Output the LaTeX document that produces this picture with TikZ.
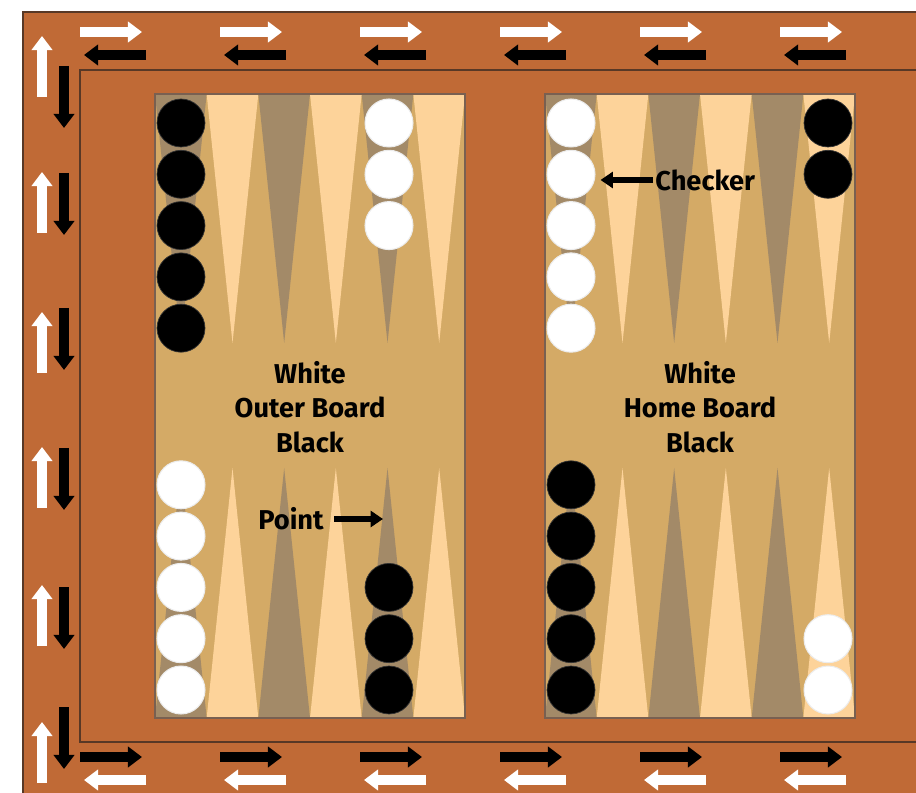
\documentclass[tikz,border=0pt]{standalone}
\usepackage{fontspec}
\setmainfont{Fira Sans}
\usetikzlibrary{arrows.meta,positioning}
\definecolor{framebrown}{RGB}{192,106,54}
\definecolor{edgebrown}{RGB}{88,56,38}
\definecolor{boardtan}{RGB}{212,170,102}
\definecolor{pointlight}{RGB}{253,211,154}
\definecolor{pointdark}{RGB}{163,138,104}

\tikzset{
  blackchk/.style={circle, fill=black, draw=black!80, line width=0.4pt, minimum size=0.96cm, inner sep=0pt},
  whitechk/.style={circle, fill=white, draw=white!85!gray, line width=0.6pt, minimum size=0.96cm, inner sep=0pt},
  lbl/.style={font=\bfseries\fontsize{15.5}{19.6}\selectfont, text=black, inner sep=0pt, align=center},
  callout/.style={line width=2.9pt, -{Triangle[length=7pt,width=9pt]}},
  movearrow/.style={line width=5.8pt, -{Triangle[length=8pt,width=11.5pt]}}
}

\begin{document}
\begin{tikzpicture}[x=0.02cm, y=-0.02cm]
  \useasboundingbox (0,0) rectangle (916,793);
  % Frame
  \fill[framebrown] (23,12) rectangle (916,793);
  \draw[edgebrown, line width=1.3pt] (916,12) -- (23,12) -- (23,793);
  \draw[edgebrown, line width=0.9pt] (916,70) -- (80,70) -- (80,742) -- (916,742);
  % Direction arrows on the frame
  \foreach \x in {80,220,360,500,640,780} {
    \draw[movearrow, white] (\x,32) -- (\x+62,32);
    \draw[movearrow, black] (\x+66,55) -- (\x+4,55);
    \draw[movearrow, black] (\x,757) -- (\x+62,757);
    \draw[movearrow, white] (\x+66,780) -- (\x+4,780);
  }
  \foreach \ya/\yb in {36/66, 172/173, 312/308, 447/448, 585/587, 722/707} {
    \draw[movearrow, white] (42,\ya+61) -- (42,\ya);
    \draw[movearrow, black] (64,\yb) -- (64,\yb+62);
  }
  % Boards and points
  \foreach \bx in {155,545} {
    \fill[boardtan] (\bx,94) rectangle (\bx+310,718);
    \foreach \i/\c in {0/pointdark,1/pointlight,2/pointdark,3/pointlight,4/pointdark,5/pointlight} {
      \fill[\c] (\bx+\i*51.67,94) -- (\bx+\i*51.67+51.67,94) -- (\bx+\i*51.67+25.83,343) -- cycle;
      \fill[\c] (\bx+\i*51.67,718) -- (\bx+\i*51.67+51.67,718) -- (\bx+\i*51.67+25.83,468) -- cycle;
    }
    \draw[edgebrown!80, line width=0.7pt] (\bx,94) rectangle (\bx+310,718);
  }
  % Checkers
  \foreach \k in {1,...,5} {
    \node[blackchk] (tlb\k) at (181,{123+51.3*(\k-1)}) {};
    \node[whitechk] (blw\k) at (181,{690-51.3*(\k-1)}) {};
    \node[whitechk] (trw\k) at (571,{123+51.3*(\k-1)}) {};
    \node[blackchk] (brb\k) at (571,{690-51.3*(\k-1)}) {};
  }
  \foreach \k in {1,2,3} {
    \node[whitechk] (tlw\k) at (389,{123+51.3*(\k-1)}) {};
    \node[blackchk] (blb\k) at (389,{690-51.3*(\k-1)}) {};
  }
  \foreach \k in {1,2} {
    \node[blackchk] (trb\k) at (828,{123+51.3*(\k-1)}) {};
    \node[whitechk] (brw\k) at (828,{690-51.3*(\k-1)}) {};
  }
  % Labels
  \node[lbl] (outer) at (310,407) {White\\Outer Board\\Black};
  \node[lbl] (home) at (700,407) {White\\Home Board\\Black};
  \node[lbl, anchor=west] (chklbl) at (655,180) {Checker};
  \draw[callout, shorten <=0.04cm, shorten >=0.1cm] (chklbl.west) -- (trw2.east |- chklbl.west);
  \node[lbl, anchor=east] (ptlbl) at (324,519) {Point};
  \coordinate (ptspot) at (383,519);
  \draw[callout, shorten <=0.2cm] (ptlbl.east) -- (ptspot);
\end{tikzpicture}
\end{document}
